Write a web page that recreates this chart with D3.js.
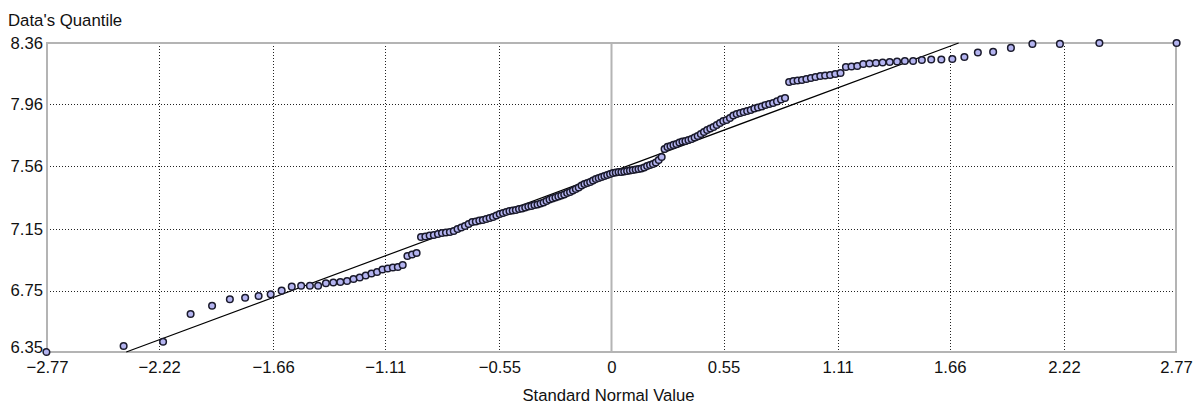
<!DOCTYPE html>
<html>
<head>
<meta charset="utf-8">
<script src="https://cdn.jsdelivr.net/npm/d3@7"></script>
<style>
  body { margin: 0; background: #fff; }
  text { font-family: "Liberation Sans", Arial, sans-serif; fill: #111; }
</style>
</head>
<body>
<div id="chart"></div>
<script>
// sorted sample values (Data's Quantile)
var sampleValues = [
  6.350, 6.389, 6.417, 6.597, 6.651, 6.693, 6.703, 6.714, 6.725, 6.749,
  6.775, 6.781, 6.781, 6.781, 6.797, 6.802, 6.805, 6.812, 6.825, 6.835,
  6.848, 6.861, 6.870, 6.887, 6.893, 6.900, 6.903, 6.916, 6.974, 6.984,
  6.994, 7.098, 7.101, 7.108, 7.111, 7.118, 7.124, 7.127, 7.131, 7.137,
  7.150, 7.160, 7.170, 7.183, 7.196, 7.199, 7.205, 7.209, 7.215, 7.222,
  7.228, 7.238, 7.248, 7.254, 7.261, 7.267, 7.270, 7.274, 7.280, 7.283,
  7.290, 7.296, 7.300, 7.306, 7.309, 7.316, 7.322, 7.332, 7.342, 7.349,
  7.355, 7.362, 7.368, 7.375, 7.384, 7.391, 7.401, 7.410, 7.420, 7.433,
  7.443, 7.449, 7.456, 7.466, 7.475, 7.482, 7.488, 7.495, 7.501, 7.508,
  7.514, 7.518, 7.521, 7.521, 7.524, 7.527, 7.531, 7.534, 7.537, 7.540,
  7.544, 7.550, 7.560, 7.566, 7.573, 7.583, 7.599, 7.618, 7.670, 7.684,
  7.690, 7.697, 7.703, 7.713, 7.719, 7.723, 7.729, 7.736, 7.745, 7.755,
  7.768, 7.781, 7.794, 7.804, 7.814, 7.827, 7.840, 7.853, 7.859, 7.872,
  7.888, 7.898, 7.905, 7.911, 7.918, 7.924, 7.934, 7.940, 7.947, 7.957,
  7.963, 7.970, 7.980, 7.993, 8.002, 8.106, 8.113, 8.116, 8.119, 8.126,
  8.132, 8.139, 8.145, 8.149, 8.152, 8.158, 8.165, 8.204, 8.207, 8.210,
  8.223, 8.227, 8.230, 8.233, 8.236, 8.240, 8.243, 8.243, 8.249, 8.253,
  8.253, 8.256, 8.269, 8.298, 8.302, 8.328, 8.354, 8.354, 8.360, 8.360
];

var xTicks = [-2.77, -2.22, -1.66, -1.11, -0.55, 0, 0.55, 1.11, 1.66, 2.22, 2.77];
var yTicks = [6.35, 6.75, 7.15, 7.56, 7.96, 8.36];

var svgWidth = 1197;
var svgHeight = 404;

var margin = {
  top: 43,
  right: 21,
  bottom: 52,
  left: 47
};

var width = svgWidth - margin.left - margin.right;
var height = svgHeight - margin.top - margin.bottom;

// inverse standard normal cdf (Acklam's rational approximation)
function normInv(p) {
  var a = [-3.969683028665376e+01, 2.209460984245205e+02, -2.759285104469687e+02,
            1.383577518672690e+02, -3.066479806614716e+01, 2.506628277459239e+00];
  var b = [-5.447609879822406e+01, 1.615858368580409e+02, -1.556989798598866e+02,
            6.680131188771972e+01, -1.328068155288572e+01];
  var c = [-7.784894002430293e-03, -3.223964580411365e-01, -2.400758277161838e+00,
           -2.549732539343734e+00, 4.374664141464968e+00, 2.938163982698783e+00];
  var d = [7.784695709041462e-03, 3.224671290700398e-01, 2.445134137142996e+00,
           3.754408661907416e+00];
  var q, r;
  if (p < 0.02425) {
    q = Math.sqrt(-2 * Math.log(p));
    return (((((c[0]*q+c[1])*q+c[2])*q+c[3])*q+c[4])*q+c[5]) /
           ((((d[0]*q+d[1])*q+d[2])*q+d[3])*q+1);
  }
  if (p > 1 - 0.02425) {
    q = Math.sqrt(-2 * Math.log(1 - p));
    return -(((((c[0]*q+c[1])*q+c[2])*q+c[3])*q+c[4])*q+c[5]) /
            ((((d[0]*q+d[1])*q+d[2])*q+d[3])*q+1);
  }
  q = p - 0.5;
  r = q * q;
  return (((((a[0]*r+a[1])*r+a[2])*r+a[3])*r+a[4])*r+a[5])*q /
         (((((b[0]*r+b[1])*r+b[2])*r+b[3])*r+b[4])*r+1);
}

var n = sampleValues.length;
var qqData = sampleValues.map(function(v, i) {
  return { z: normInv((i + 0.5) / n), v: v };
});

var svg = d3.select("#chart").append("svg")
  .attr("width", svgWidth)
  .attr("height", svgHeight);

var chartGroup = svg.append("g")
  .attr("transform", `translate(${margin.left}, ${margin.top})`);

var xScale = d3.scaleLinear().domain([-2.77, 2.77]).range([0, width]);
var yScale = d3.scaleLinear().domain([6.35, 8.36]).range([height, 0]);

// dotted grid
chartGroup.append("g")
  .selectAll("line")
  .data(xTicks.slice(1, -1).filter(d => d !== 0))
  .enter()
  .append("line")
  .attr("x1", d => Math.round(xScale(d)) + 0.5)
  .attr("x2", d => Math.round(xScale(d)) + 0.5)
  .attr("y1", 0)
  .attr("y2", height)
  .attr("stroke", "#222")
  .attr("stroke-dasharray", "1,2");

chartGroup.append("g")
  .selectAll("line")
  .data(yTicks.slice(1, -1))
  .enter()
  .append("line")
  .attr("x1", 0)
  .attr("x2", width)
  .attr("y1", d => Math.round(yScale(d)) + 0.5)
  .attr("y2", d => Math.round(yScale(d)) + 0.5)
  .attr("stroke", "#222")
  .attr("stroke-dasharray", "1,2");

// zero line
chartGroup.append("line")
  .attr("x1", xScale(0))
  .attr("x2", xScale(0))
  .attr("y1", 0)
  .attr("y2", height)
  .attr("stroke", "#b4b4b4")
  .attr("stroke-width", 2);

// frame
chartGroup.append("rect")
  .attr("x", 0)
  .attr("y", 0)
  .attr("width", width)
  .attr("height", height)
  .attr("fill", "none")
  .attr("stroke", "#b4b4b4")
  .attr("stroke-width", 2);

// reference line from sample mean / sd, clipped to the plot
var mean = d3.mean(sampleValues);
var sd = d3.deviation(sampleValues);
var zLo = Math.max(-2.77, (6.35 - mean) / sd);
var zHi = Math.min(2.77, (8.36 - mean) / sd);

chartGroup.append("line")
  .attr("x1", xScale(zLo))
  .attr("y1", yScale(mean + sd * zLo))
  .attr("x2", xScale(zHi))
  .attr("y2", yScale(mean + sd * zHi))
  .attr("stroke", "#000")
  .attr("stroke-width", 1.2);

// points
chartGroup.append("g")
  .selectAll("circle")
  .data(qqData)
  .enter()
  .append("circle")
  .attr("cx", d => xScale(d.z))
  .attr("cy", d => yScale(d.v))
  .attr("r", 3.3)
  .attr("fill", "#b4b4f0")
  .attr("stroke", "#1a1a2c")
  .attr("stroke-width", 1.5);

// axes (labels only)
var bottomAxis = d3.axisBottom(xScale)
  .tickValues(xTicks)
  .tickSize(0)
  .tickPadding(9)
  .tickFormat(d => d === 0 ? "0" : d3.format(".2f")(d));

var leftAxis = d3.axisLeft(yScale)
  .tickValues(yTicks)
  .tickSize(0)
  .tickPadding(4)
  .tickFormat(d3.format(".2f"));

var xAxis = chartGroup.append("g")
  .attr("transform", `translate(0, ${height})`)
  .call(bottomAxis);

var yAxis = chartGroup.append("g")
  .call(leftAxis);

[xAxis, yAxis].forEach(function(ax) {
  ax.select(".domain").remove();
  ax.selectAll("text")
    .attr("font-family", "Liberation Sans, Arial, sans-serif")
    .attr("font-size", 16.7)
    .attr("fill", "#111");
});

// lowest y label sits a little above the corner, as in the original
yAxis.selectAll(".tick")
  .filter(d => d === 6.35)
  .select("text")
  .attr("y", -5);

// titles
svg.append("text")
  .attr("x", 8)
  .attr("y", 26)
  .attr("font-size", 16.8)
  .text("Data's Quantile");

svg.append("text")
  .attr("x", margin.left + xScale(0) - 3)
  .attr("y", 401)
  .attr("text-anchor", "middle")
  .attr("font-size", 16.7)
  .text("Standard Normal Value");
</script>
</body>
</html>
